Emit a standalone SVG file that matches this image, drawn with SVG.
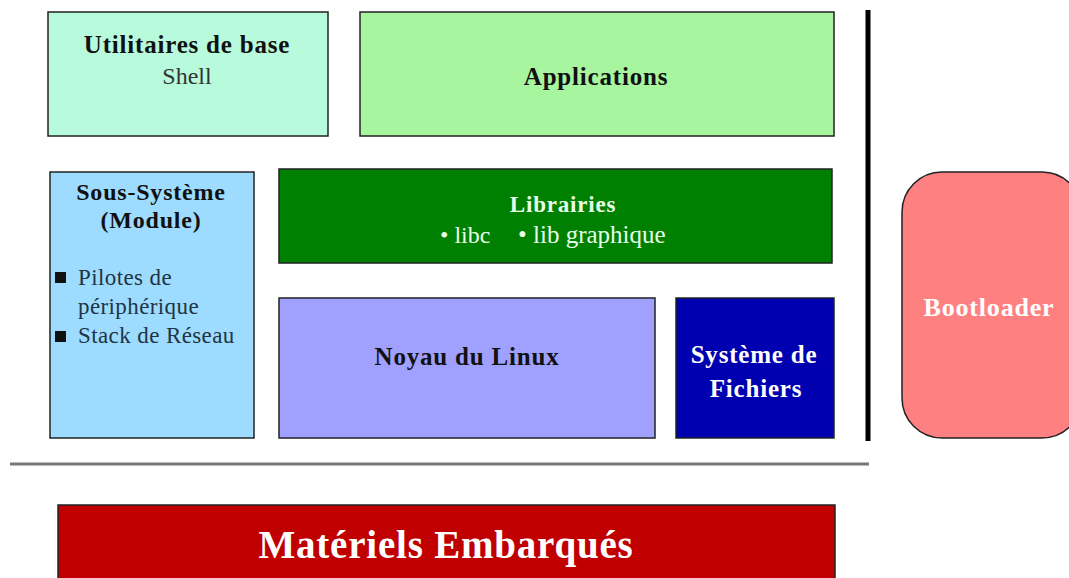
<svg xmlns="http://www.w3.org/2000/svg" width="1069" height="578" viewBox="0 0 1069 578">
<style>
.box{stroke:#222;stroke-width:1.5}
.t{font-family:"Liberation Serif","Times New Roman",serif;text-anchor:middle}
.l{font-family:"Liberation Serif","Times New Roman",serif;font-size:23px;fill:#234;letter-spacing:0.4px}
.b{font-weight:bold;letter-spacing:0.8px}
.dk{fill:#111}
.w{fill:#fff}
</style>
<rect width="1069" height="578" fill="#fff"/>
<g id="utilitaires">
<rect class="box" x="48" y="12" width="280" height="124" fill="#b8fadc"/>
<text class="t b dk" x="187" y="53" font-size="25">Utilitaires de base</text>
<text class="t" x="187" y="84" font-size="24" fill="#333">Shell</text>
</g>
<g id="applications">
<rect class="box" x="360" y="12" width="474" height="124" fill="#a8f5a0"/>
<text class="t b dk" x="596" y="85" font-size="25">Applications</text>
</g>
<g id="sous-systeme">
<rect class="box" x="50" y="172" width="204" height="266" fill="#9ddcff"/>
<text class="t b dk" x="151" y="200" font-size="24">Sous-Système</text>
<text class="t b dk" x="151" y="228" font-size="24">(Module)</text>
<rect x="55" y="272" width="11" height="11" fill="#111"/>
<text class="l" x="78" y="285">Pilotes de</text>
<text class="l" x="78" y="314">périphérique</text>
<rect x="55" y="331" width="11" height="11" fill="#111"/>
<text class="l" x="78" y="343">Stack de Réseau</text>
</g>
<g id="librairies">
<rect class="box" x="279" y="169" width="553" height="94" fill="#008000"/>
<text class="t b" x="563" y="212" font-size="23" fill="#e8ffe8">Librairies</text>
<text x="440" y="243" font-size="24" font-family="Liberation Serif,serif" fill="#e8ffe8">• libc</text>
<text x="518" y="243" font-size="25" font-family="Liberation Serif,serif" fill="#e8ffe8">• lib graphique</text>
</g>
<g id="noyau">
<rect class="box" x="279" y="298" width="376" height="140" fill="#a0a0ff"/>
<text class="t b dk" x="467" y="365" font-size="25">Noyau du Linux</text>
</g>
<g id="fichiers">
<rect class="box" x="676" y="298" width="158" height="140" fill="#0000b0"/>
<text class="t b w" x="754" y="363" font-size="25">Système de</text>
<text class="t b w" x="756" y="397" font-size="25">Fichiers</text>
</g>
<g id="bootloader">
<rect class="box" x="902" y="172" width="180" height="266" rx="40" ry="40" fill="#ff8080"/>
<text class="t b w" x="989" y="316" font-size="26">Bootloader</text>
</g>
<g id="connectors">
<line x1="868" y1="10" x2="868" y2="441" stroke="#000" stroke-width="5"/>
<line x1="10" y1="464" x2="869" y2="464" stroke="#777" stroke-width="3"/>
</g>
<g id="materiels">
<rect class="box" x="58" y="505" width="777" height="80" fill="#c00000"/>
<text class="t b w" x="446" y="558" font-size="39">Matériels Embarqués</text>
</g>
</svg>
